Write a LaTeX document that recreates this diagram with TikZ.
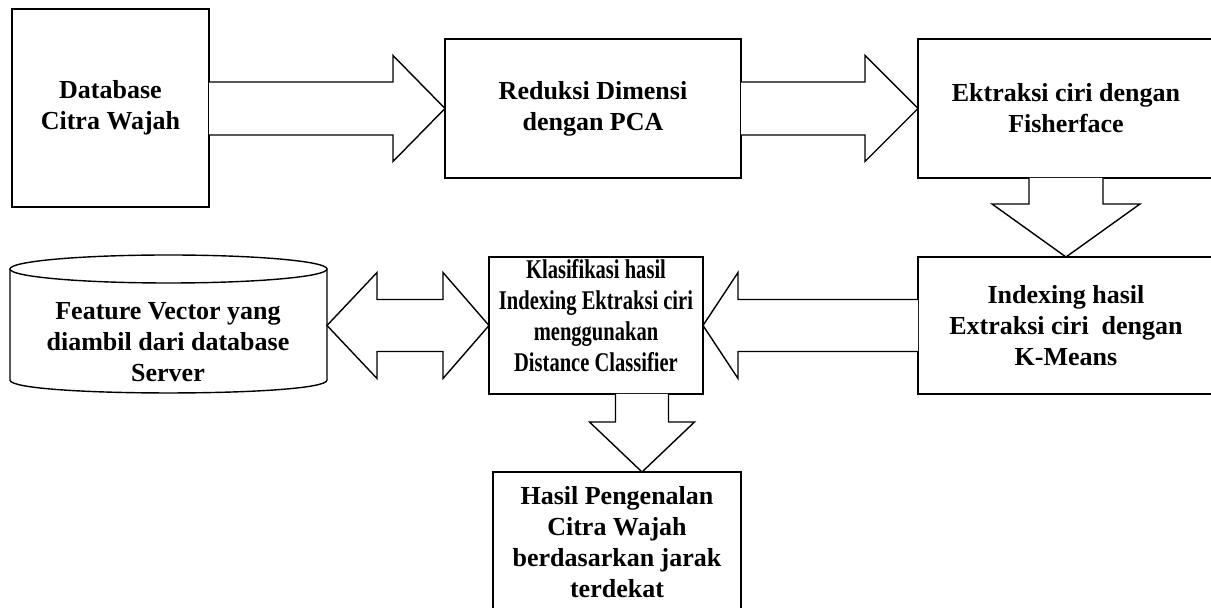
\documentclass[tikz,border=0pt]{standalone}
\usepackage{fontspec}
\usepackage{graphicx}
\setmainfont{Liberation Serif}
\usetikzlibrary{calc}
\newcommand\condline[1]{\scalebox{0.79}[1.04]{#1}}
\begin{document}
\begin{tikzpicture}[x=0.5pt,y=-0.5pt,
  every node/.style={font=\bfseries\fontsize{13}{15.5}\selectfont, align=center, inner sep=0pt, outer sep=0pt},
  box/.style={draw, line width=0.7pt},
  blk/.style={draw, line width=0.7pt, line join=miter, fill=white},
  outline/.style={line width=0.7pt}]
\useasboundingbox (0,0) rectangle (1211,608);
\clip (0,0) rectangle (1211,608);

% boxes
\node[box, minimum width=98.5pt, minimum height=99pt] (db) at (110.5,108) {Database\\Citra Wajah};
\node[box, minimum width=148pt, minimum height=69.5pt] (red) at (593,108.5) {Reduksi Dimensi\\dengan PCA};
\node[box, minimum width=148pt, minimum height=69.5pt] (fish) at (1066,108.5) {Ektraksi ciri dengan\\Fisherface};
\node[box, minimum width=148pt, minimum height=68.5pt] (idx) at (1066,325.5) {Indexing hasil\\Extraksi ciri\ \ dengan\\K-Means};
\node[box, minimum width=107pt, minimum height=68.5pt] (cls) at (596,325.5) {};
\node (clstext) at (596,316) {\condline{Klasifikasi hasil}\\\condline{Indexing Ektraksi ciri}\\\condline{menggunakan}\\\condline{Distance Classifier}};
\node[box, minimum width=124pt, minimum height=70pt] (res) at (617,542) {Hasil Pengenalan\\Citra Wajah\\berdasarkan jarak\\terdekat};

% cylinder
\node[minimum width=158.5pt, minimum height=55.5pt] (cyl) at (168.5,324.5) {};
\draw[outline] (cyl.north west) -- (cyl.south west)
  .. controls ($(cyl.south west)+(0,17.3)$) and ($(cyl.south east)+(0,17.3)$) .. (cyl.south east)
  -- (cyl.north east);
\draw[outline, fill=white] (cyl.north) ellipse [x radius=79.25pt, y radius=7pt];
\node (cyltext) at (168,341.7) {Feature Vector yang\\diambil dari database\\Server};

% block arrow 1: db -> red
\draw[blk] ($(db.east |- red.west)+(0,-26.5)$) -- ($(red.west)+(-52,-26.5)$) -- ($(red.west)+(-52,-53)$)
  -- (red.west) -- ($(red.west)+(-52,53)$) -- ($(red.west)+(-52,26.5)$) -- ($(db.east |- red.west)+(0,26.5)$);
% block arrow 2: red -> fish
\draw[blk] ($(red.east)+(0,-26.5)$) -- ($(fish.west)+(-53,-26.5)$) -- ($(fish.west)+(-53,-53)$)
  -- (fish.west) -- ($(fish.west)+(-53,53)$) -- ($(fish.west)+(-53,26.5)$) -- ($(red.east)+(0,26.5)$);
% block arrow 3: fish -> idx (down)
\draw[blk] ($(fish.south)+(-37,0)$) -- ($(idx.north)+(-37,-53)$) -- ($(idx.north)+(-74,-53)$)
  -- (idx.north) -- ($(idx.north)+(74,-53)$) -- ($(idx.north)+(37,-53)$) -- ($(fish.south)+(37,0)$);
% block arrow 4: idx -> cls (left)
\draw[blk] ($(idx.west)+(0,-26)$) -- ($(cls.east)+(35,-26)$) -- ($(cls.east)+(35,-53)$)
  -- (cls.east) -- ($(cls.east)+(35,53)$) -- ($(cls.east)+(35,26)$) -- ($(idx.west)+(0,26)$);
% block arrow 5: cyl <-> cls (double)
\coordinate (dl) at (cyl.east |- cls.west);
\draw[blk] (dl) -- ($(dl)+(50,-53)$) -- ($(dl)+(50,-26)$) -- ($(cls.west)+(-46,-26)$) -- ($(cls.west)+(-46,-53)$)
  -- (cls.west) -- ($(cls.west)+(-46,53)$) -- ($(cls.west)+(-46,26)$) -- ($(dl)+(50,26)$) -- ($(dl)+(50,53)$) -- cycle;
% block arrow 6: cls -> res (down)
\coordinate (t2) at ($(res.north)+(25,0)$);
\coordinate (s2) at (t2 |- cls.south);
\draw[blk] ($(s2)+(-26.5,0)$) -- ($(t2)+(-26.5,-50)$) -- ($(t2)+(-52.5,-50)$)
  -- (t2) -- ($(t2)+(52.5,-50)$) -- ($(t2)+(26.5,-50)$) -- ($(s2)+(26.5,0)$);
\end{tikzpicture}
\end{document}
